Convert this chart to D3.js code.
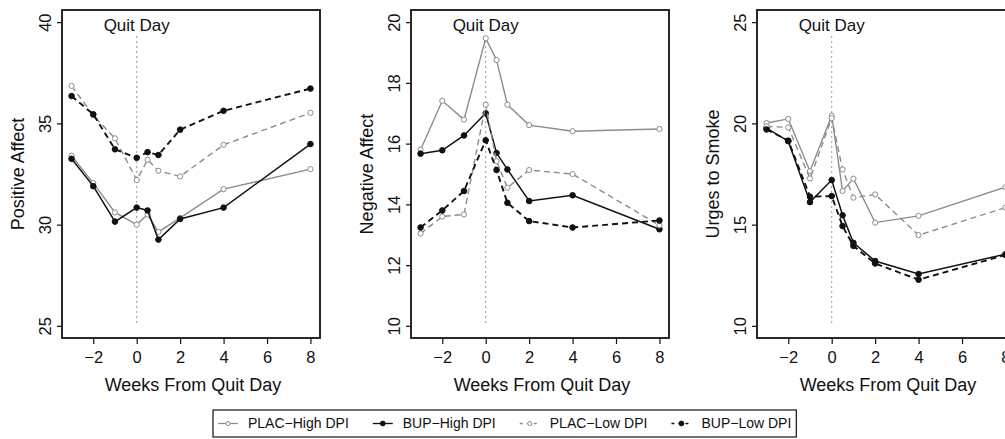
<!DOCTYPE html>
<html>
<head>
<meta charset="utf-8">
<script src="https://cdn.jsdelivr.net/npm/d3@7"></script>
<style>
  body { margin: 0; background: #fff; }
  text { font-family: "Liberation Sans", Arial, Helvetica, sans-serif; fill: #111; }
</style>
</head>
<body>
<svg id="chart" width="1005" height="439"></svg>
<script>
// --- data ---
const weeks = [-3, -2, -1, 0, 0.5, 1, 2, 4, 8];
const xTicks = [-2, 0, 2, 4, 6, 8];
const groupNames = ["PLAC\u2212High DPI", "BUP\u2212High DPI", "PLAC\u2212Low DPI", "BUP\u2212Low DPI"];

// Positive Affect
const posPlacHigh = [33.4, 32.05, 30.6, 30.0, 30.5, 29.64, 30.33, 31.75, 32.74];
const posBupHigh  = [33.25, 31.9, 30.15, 30.84, 30.7, 29.26, 30.28, 30.84, 33.98];
const posPlacLow  = [36.85, 35.4, 34.26, 32.2, 33.2, 32.66, 32.38, 33.94, 35.52];
const posBupLow   = [36.35, 35.45, 33.72, 33.3, 33.58, 33.44, 34.69, 35.62, 36.72];

// Negative Affect
const negPlacHigh = [15.8, 17.41, 16.79, 19.47, 18.75, 17.28, 16.61, 16.41, 16.48];
const negBupHigh  = [15.67, 15.78, 16.27, 17.0, 15.69, 15.15, 14.11, 14.3, 13.18];
const negPlacLow  = [13.04, 13.6, 13.67, 17.28, 15.42, 14.55, 15.13, 15.0, 13.31];
const negBupLow   = [13.24, 13.8, 14.44, 16.11, 15.13, 14.05, 13.45, 13.24, 13.47];

// Urges to Smoke
const urgePlacHigh = [20.02, 20.22, 17.64, 20.38, 16.66, 17.27, 15.1, 15.43, 16.85];
const urgeBupHigh  = [19.77, 19.12, 16.11, 17.2, 15.46, 14.1, 13.2, 12.56, 13.54];
const urgePlacLow  = [19.85, 19.8, 17.28, 20.26, 17.72, 16.33, 16.49, 14.48, 15.84];
const urgeBupLow   = [19.7, 19.15, 16.38, 16.41, 14.93, 13.95, 13.08, 12.28, 13.5];

const panelTitles = ["Positive Affect", "Negative Affect", "Urges to Smoke"];
const yLimits = [[25, 40], [10, 20], [10, 25]];
const yTickValues = [[25, 30, 35, 40], [10, 12, 14, 16, 18, 20], [10, 15, 20, 25]];

const panelSeries = [
  [posPlacHigh, posBupHigh, posPlacLow, posBupLow],
  [negPlacHigh, negBupHigh, negPlacLow, negBupLow],
  [urgePlacHigh, urgeBupHigh, urgePlacLow, urgeBupLow]
];

// --- look ---
const grey = "#8c8c8c";
const styles = [
  { color: grey,   dash: null,  filled: false, width: 1.4 },
  { color: "#111", dash: null,  filled: true,  width: 1.5 },
  { color: grey,   dash: "6,4", filled: false, width: 1.4 },
  { color: "#111", dash: "6,4", filled: true,  width: 1.9 }
];

const svg = d3.select("#chart");

// plot boxes
const boxLefts = [62, 411, 757];
const boxW = 258;
const plotTop = 10, plotBottom = 338;

// R style 4% axis padding
const pad = ([a, b]) => [a - 0.04 * (b - a), b + 0.04 * (b - a)];

panelSeries.forEach((series, i) => {
  const left = boxLefts[i];
  const x = d3.scaleLinear().domain(pad([-3, 8])).range([left, left + boxW]);
  const y = d3.scaleLinear().domain(pad(yLimits[i])).range([plotBottom, plotTop]);

  const g = svg.append("g");

  // x axis
  const xa = g.append("g")
    .attr("transform", `translate(0,${plotBottom})`)
    .call(d3.axisBottom(x).tickValues(xTicks).tickSize(6).tickPadding(7).tickFormat(d3.format("d")));
  xa.select(".domain").remove();
  xa.selectAll("line").attr("stroke", "#111").attr("stroke-width", 1.2);
  xa.selectAll("text").style("font-size", "16.5px").attr("fill", "#111");

  // y axis with labels turned like R (las = 0)
  const ya = g.append("g")
    .attr("transform", `translate(${left},0)`)
    .call(d3.axisLeft(y).tickValues(yTickValues[i]).tickSize(5).tickFormat(d3.format("d")));
  ya.select(".domain").remove();
  ya.selectAll("line").attr("stroke", "#111").attr("stroke-width", 1.2);
  ya.selectAll("text")
    .attr("x", null)
    .attr("dy", "0.35em")
    .attr("text-anchor", "middle")
    .attr("transform", "translate(-17,0) rotate(-90)")
    .style("font-size", "16.5px")
    .attr("fill", "#111");

  // titles
  g.append("text")
    .attr("transform", `translate(${left - 44},${(plotTop + plotBottom) / 2}) rotate(-90)`)
    .attr("text-anchor", "middle")
    .attr("dy", "0.35em")
    .style("font-size", "18px")
    .text(panelTitles[i]);

  g.append("text")
    .attr("x", left + boxW / 2 + 2)
    .attr("y", 385)
    .attr("text-anchor", "middle")
    .attr("dy", "0.35em")
    .style("font-size", "18px")
    .text("Weeks From Quit Day");

  // quit day marker
  g.append("line")
    .attr("x1", x(0)).attr("x2", x(0))
    .attr("y1", 36).attr("y2", y(yLimits[i][0]))
    .attr("stroke", "#999")
    .attr("stroke-width", 1)
    .attr("stroke-dasharray", "2,3");

  g.append("text")
    .attr("x", x(0))
    .attr("y", 25)
    .attr("text-anchor", "middle")
    .attr("dy", "0.35em")
    .style("font-size", "17px")
    .text("Quit Day");

  // series
  const line = d3.line()
    .x((d, j) => x(weeks[j]))
    .y(d => y(d));

  series.forEach((vals, k) => {
    const s = styles[k];
    g.append("path")
      .datum(vals)
      .attr("fill", "none")
      .attr("stroke", s.color)
      .attr("stroke-width", s.width)
      .attr("stroke-dasharray", s.dash)
      .attr("d", line);

    g.selectAll(null)
      .data(vals)
      .enter()
      .append("circle")
      .attr("cx", (d, j) => x(weeks[j]))
      .attr("cy", d => y(d))
      .attr("r", s.filled ? 2.8 : 2.6)
      .attr("fill", s.filled ? s.color : "#fff")
      .attr("stroke", s.color)
      .attr("stroke-width", 1);
  });

  // frame
  g.append("rect")
    .attr("x", left).attr("y", plotTop)
    .attr("width", boxW).attr("height", plotBottom - plotTop)
    .attr("fill", "none")
    .attr("stroke", "#111")
    .attr("stroke-width", 1.8);
});

// --- legend ---
const legend = svg.append("g");
const legLeft = 213, legTop = 410, legBottom = 437, legMid = 423.5;
let cx = legLeft + 5;
groupNames.forEach((name, k) => {
  const s = styles[k];
  legend.append("line")
    .attr("x1", cx).attr("x2", cx + 20)
    .attr("y1", legMid).attr("y2", legMid)
    .attr("stroke", s.color)
    .attr("stroke-width", s.width * 0.9)
    .attr("stroke-dasharray", s.dash ? "3,4" : null);
  legend.append("circle")
    .attr("cx", cx + 10).attr("cy", legMid)
    .attr("r", s.filled ? 2.4 : 2.1)
    .attr("fill", s.filled ? s.color : "#fff")
    .attr("stroke", s.color)
    .attr("stroke-width", 1);
  const t = legend.append("text")
    .attr("x", cx + 30)
    .attr("y", legMid)
    .attr("dy", "0.35em")
    .style("font-size", "14px")
    .text(name);
  cx = cx + 30 + t.node().getComputedTextLength() + 24;
});
legend.insert("rect", ":first-child")
  .attr("x", legLeft).attr("y", legTop)
  .attr("width", cx - 24 + 5 - legLeft).attr("height", legBottom - legTop)
  .attr("fill", "#fff")
  .attr("stroke", "#111")
  .attr("stroke-width", 1.2);
</script>
</body>
</html>
